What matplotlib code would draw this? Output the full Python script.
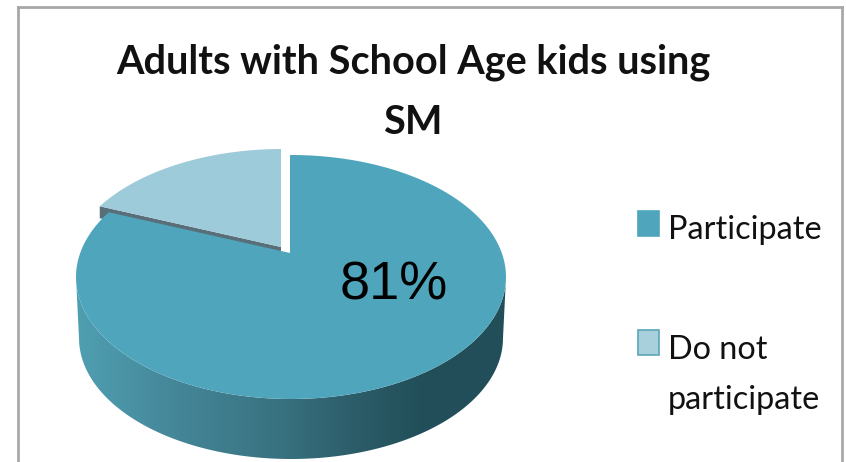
import matplotlib
matplotlib.use("Agg")
import matplotlib.pyplot as plt
import numpy as np
from matplotlib.colors import LinearSegmentedColormap
from matplotlib.patches import Polygon, Rectangle

title = "Adults with School Age kids using\nSM"
labels = ["Participate", "Do not\nparticipate"]
shares = [81, 19]
share_label = "81%"
colors = ["#4fa6bc", "#9ecbda"]
edge_colors = ["#4fa6bc", "#5aa6b9"]

# tilted disc, in pixels of the canvas
cx, cy, rx, ry = 291, 277, 215, 122
apex_x, apex_y = 290, 253
squash = ry / rx
depth = 61
lift_x, lift_y = -9, -6


def rim_point(theta):
    # follow a ray from the off-centre apex out to the ellipse
    dx, dy = np.sin(theta), -squash * np.cos(theta)
    ox, oy = apex_x - cx, apex_y - cy
    a = (dx / rx) ** 2 + (dy / ry) ** 2
    b = 2 * (ox * dx / rx ** 2 + oy * dy / ry ** 2)
    c = (ox / rx) ** 2 + (oy / ry) ** 2 - 1
    s = (-b + np.sqrt(b * b - 4 * a * c)) / (2 * a)
    return apex_x + s * dx, apex_y + s * dy


def wedge_points(start, stop):
    thetas = np.linspace(start, stop, 200)
    rim = [rim_point(t) for t in thetas]
    return np.array([(apex_x, apex_y)] + rim)


fig = plt.figure(figsize=(8.46, 4.62), dpi=100)
ax = fig.add_axes([0, 0, 1, 1])
ax.set_xlim(0, 846)
ax.set_ylim(462, 0)
ax.axis("off")

# outer frame, open at the bottom
ax.plot([18, 18], [462, 7], color="#a8a8a8", lw=2)
ax.plot([18, 842], [7, 7], color="#a8a8a8", lw=2)
ax.plot([842, 842], [7, 462], color="#a8a8a8", lw=2)

# side wall with horizontal shading
t = np.linspace(np.pi, 0, 200)
upper = np.column_stack([cx + rx * np.cos(t), cy + ry * np.sin(t)])
lower = np.column_stack([cx + (rx - 3) * np.cos(t), cy + depth + (ry - 1) * np.sin(t)])
wall = Polygon(np.vstack([upper, lower[::-1]]), closed=True, fc="none", ec="none")
ax.add_patch(wall)
cmap = LinearSegmentedColormap.from_list(
    "wall",
    [(0.0, "#4f9fb1"), (0.26, "#438496"), (0.48, "#38717f"),
     (0.66, "#2b5c68"), (0.80, "#224f59"), (1.0, "#214e58")],
)
grad = ax.imshow(np.linspace(0, 1, 256)[None, :], cmap=cmap, aspect="auto",
                 extent=[cx - rx, cx + rx, cy + depth + ry, cy - ry], zorder=1)
grad.set_clip_path(wall)
ax.set_xlim(0, 846)
ax.set_ylim(462, 0)

# slices, clockwise from twelve o'clock
split = 2 * np.pi * shares[0] / sum(shares)
main = wedge_points(0, split)
small = wedge_points(split, 2 * np.pi) + [lift_x, lift_y]

band = small[:2].tolist() + [(small[1][0], small[1][1] + 12), (small[0][0], small[0][1] + 6)]
ax.add_patch(Polygon(band, closed=True, fc="#586f79", ec="none", zorder=2))
ax.add_patch(Polygon(small, closed=True, fc=colors[1], ec="none", zorder=3))
ax.add_patch(Polygon(main, closed=True, fc=colors[0], ec="none", zorder=4))

ax.text(394, 285, share_label, ha="center", va="center", fontsize=39,
        family="Liberation Sans", color="black", zorder=5)

ax.text(413, 92, title, ha="center", va="center", fontsize=28.5, fontweight="bold",
        family="Lato", color="#111111", linespacing=1.78)

# legend
ax.add_patch(Rectangle((638, 211), 21, 25, fc=colors[0], ec=edge_colors[0], lw=1.2))
ax.add_patch(Rectangle((638, 330), 21, 25, fc="#a8d0dc", ec=edge_colors[1], lw=1.2))
ax.text(668, 230, labels[0], ha="left", va="center", fontsize=23.3, family="Lato", color="#111111")
ax.text(668, 375, labels[1], ha="left", va="center", fontsize=23.3, family="Lato", color="#111111",
        linespacing=1.83)

fig.savefig("out.png", dpi=100)
